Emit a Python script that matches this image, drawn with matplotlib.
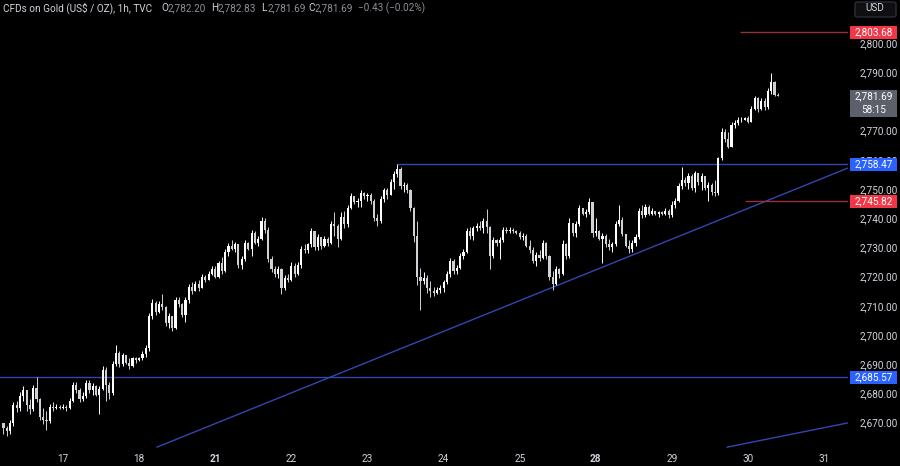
import numpy as np
import matplotlib
matplotlib.use("Agg")
from matplotlib import pyplot as plt
from matplotlib.patches import Rectangle, FancyBboxPatch

plt.rcParams['font.family'] = ['Roboto', 'DejaVu Sans']

#%% Data (1h candles)
closes = [2668, 2667, 2670, 2676, 2675, 2679, 2681, 2676, 2674.5, 2682,
          2678, 2672, 2671, 2670.5, 2675.5, 2675, 2675.5, 2675, 2675.5, 2675,
          2677.5, 2683, 2681, 2678, 2679, 2683.5, 2681, 2682.5, 2679.5, 2681.5,
          2688, 2683, 2680, 2690, 2694, 2690, 2693, 2690.5, 2689.5, 2692,
          2691.5, 2692, 2693.5, 2695.5, 2706.5, 2711, 2708, 2710.5, 2709.5, 2704,
          2706.5, 2702.5, 2712, 2710.5, 2707, 2712, 2716.5, 2715, 2717.5, 2716,
          2720, 2719, 2721, 2722.5, 2720, 2724.5, 2722, 2728.5, 2730.5, 2729.5,
          2731, 2724, 2726, 2731.5, 2729.5, 2735, 2731.5, 2733, 2739, 2736,
          2726, 2722.5, 2721, 2722.5, 2716, 2719.5, 2719, 2723.5, 2721, 2724,
          2729.5, 2729, 2731, 2735.5, 2730, 2733.5, 2730.5, 2733, 2731.5, 2738,
          2737.5, 2733, 2740.5, 2738, 2743.5, 2747.5, 2745.5, 2746, 2748.5, 2747.5,
          2748, 2746, 2740, 2739, 2746.5, 2749.5, 2748, 2752.5, 2755, 2757,
          2751, 2751.5, 2749.5, 2743.5, 2734, 2720, 2718.5, 2719.5, 2716, 2715,
          2714.5, 2715.5, 2716, 2718, 2721, 2725.5, 2722, 2723, 2727, 2728.5,
          2735.5, 2734, 2736.5, 2737.5, 2736.5, 2739, 2737, 2727, 2732.5, 2731.5,
          2732.5, 2736, 2735.5, 2736, 2735.5, 2735, 2733.5, 2734, 2730.5, 2729,
          2725.5, 2727.5, 2726.5, 2731.5, 2727, 2720, 2717.5, 2722.5, 2721, 2731,
          2727, 2738.5, 2735, 2738, 2743.5, 2741.5, 2742, 2745.5, 2735, 2735.5,
          2733, 2734, 2731, 2730, 2731, 2738, 2739.5, 2734.5, 2730.5, 2729.5,
          2731.5, 2733.5, 2742.5, 2741, 2744, 2741.5, 2742.5, 2741.5, 2742, 2741.5,
          2742.5, 2741, 2744.5, 2746, 2751, 2753, 2752, 2754.5, 2750.5, 2755.5,
          2752.5, 2754.5, 2750.5, 2751.5, 2749, 2748.5, 2760.5, 2769.5, 2767, 2764.5,
          2772, 2772.5, 2773.5, 2773.8, 2774.2, 2773, 2777.5, 2781, 2777.5, 2780,
          2778, 2783.5, 2786.5, 2782.2, 2781.69]
highs = [2670, 2669, 2671, 2677, 2677.5, 2680.5, 2682.5, 2681, 2678, 2683,
         2685.6, 2678.5, 2675, 2674, 2676.5, 2677, 2676.5, 2676, 2676.5, 2676,
         2678.5, 2684, 2684, 2682, 2680.5, 2684.5, 2684.5, 2683.5, 2683, 2682.5,
         2689.5, 2689, 2684, 2691, 2696.5, 2694.5, 2694, 2693, 2692, 2692.5,
         2692.5, 2692.5, 2694.5, 2696.5, 2707.5, 2712.5, 2711.5, 2711.5, 2714, 2710,
         2707.5, 2706.5, 2713, 2713, 2711, 2713, 2717.5, 2718, 2718.5, 2719,
         2721, 2720.5, 2721.8, 2723.5, 2723.5, 2725.5, 2726.7, 2729.5, 2731.5, 2732.5,
         2732, 2731, 2727, 2732.5, 2732, 2736, 2735.5, 2734, 2740.5, 2740,
         2737, 2727, 2723.5, 2723.5, 2723, 2720.5, 2721, 2725, 2724.5, 2725,
         2730.5, 2731, 2731.5, 2736.5, 2735.5, 2734.5, 2733.5, 2734, 2733.5, 2739,
         2742, 2738, 2742, 2742.5, 2744.5, 2748.5, 2747, 2747, 2749.5, 2749,
         2748.8, 2748.5, 2746.5, 2741.5, 2747.5, 2750.5, 2750.5, 2753.5, 2756, 2758.5,
         2757.5, 2752.5, 2752, 2750, 2744, 2739, 2723, 2721.5, 2720.5, 2718.5,
         2716.5, 2716.5, 2717, 2719, 2722, 2726.5, 2726, 2724, 2728, 2729.5,
         2736.5, 2737, 2737.5, 2738.5, 2739, 2740, 2743, 2737.5, 2733.5, 2733,
         2733.5, 2737, 2737, 2737, 2736.5, 2736, 2735.5, 2735, 2734.5, 2732.5,
         2730, 2728.5, 2729, 2732.5, 2732, 2727.5, 2722, 2723.5, 2723, 2732.5,
         2731.5, 2740, 2738.5, 2739, 2744.5, 2743.5, 2743, 2747, 2745.5, 2740,
         2736, 2735, 2734.5, 2733, 2732, 2739, 2744.5, 2740.5, 2734.5, 2732.5,
         2732.5, 2734.5, 2743.5, 2744.5, 2745, 2744.5, 2743.5, 2742.5, 2742.5, 2742.5,
         2743.5, 2743, 2746, 2747, 2752, 2757.5, 2754, 2755.5, 2755, 2756,
         2755.5, 2755.5, 2754.5, 2752.5, 2752, 2753, 2761, 2771, 2770.5, 2769.5,
         2773, 2773.5, 2774.5, 2774.5, 2774.8, 2775, 2778.5, 2782, 2781.5, 2781,
         2781, 2784.5, 2789.7, 2787, 2782.83]
lows = [2666, 2665.5, 2666, 2669, 2673.5, 2674, 2677.5, 2674, 2673, 2674,
        2677, 2671, 2669.5, 2667.5, 2670, 2674, 2674.5, 2674.5, 2674.5, 2674,
        2674.5, 2677, 2680, 2677, 2677.5, 2678.5, 2680, 2679.5, 2679, 2673,
        2681, 2677.5, 2678, 2679.5, 2689.5, 2689, 2689.5, 2690, 2688.5, 2689,
        2690.5, 2691, 2691.5, 2692.5, 2694.5, 2705.5, 2707, 2707.5, 2708.5, 2703,
        2702.5, 2701.5, 2702, 2709.5, 2706, 2704.5, 2711, 2714, 2715, 2715,
        2716, 2718, 2719, 2720.5, 2719.5, 2719.5, 2721, 2721.5, 2727, 2729,
        2728.5, 2723, 2722.5, 2725.5, 2729, 2727, 2731, 2730.5, 2732.5, 2735,
        2725, 2721.5, 2720, 2719.5, 2714, 2715.5, 2718, 2718.5, 2720, 2720.5,
        2723, 2728, 2728, 2730, 2729, 2729, 2729.5, 2730, 2730.5, 2731,
        2734, 2730, 2732.5, 2736.5, 2737, 2743, 2745, 2744, 2744, 2746.5,
        2746, 2745, 2739, 2737.5, 2738.5, 2745.5, 2746.5, 2748, 2750, 2754,
        2750, 2749, 2748.5, 2742.5, 2732, 2717, 2708.6, 2717.5, 2714.5, 2713,
        2713.5, 2714, 2714.5, 2714.8, 2717.5, 2720, 2721, 2721, 2722.5, 2726,
        2728, 2733, 2732.5, 2735.5, 2736, 2735, 2735, 2722.6, 2726.5, 2730.5,
        2726, 2732, 2735, 2735, 2735, 2734.5, 2733, 2732.5, 2730, 2728,
        2724.5, 2723.5, 2725.5, 2726, 2726, 2719, 2715.5, 2717, 2719.5, 2720.5,
        2726, 2726.5, 2734, 2733.5, 2737.5, 2741, 2740.5, 2741.5, 2733.5, 2734,
        2732.5, 2724.7, 2730, 2729, 2728.5, 2730.5, 2737.5, 2734, 2730, 2728,
        2728.5, 2730.5, 2733, 2740, 2740.5, 2741, 2741, 2741, 2740.5, 2741,
        2741, 2740, 2740.5, 2743.5, 2745.5, 2750, 2751, 2750, 2749.5, 2749,
        2751.5, 2749.6, 2749.5, 2746, 2748, 2747.5, 2748, 2760, 2766, 2764,
        2764.5, 2771, 2772, 2773, 2773.5, 2772.5, 2773, 2777, 2776.5, 2777,
        2777, 2777.5, 2782.5, 2782, 2781.69]
first_open = 2670

day_labels = ['17', '18', '21', '22', '23', '24', '25', '28', '29', '30', '31']
bold_days = ['21', '28']
first_day_bar = 18
bars_per_day = 23
# 2,780 sits under the live-price box, so it is not shown
price_ticks = [2670, 2680, 2690, 2700, 2710, 2720, 2730, 2740, 2750, 2760, 2770, 2790, 2800]

# drawn levels
resistance = 2803.68
support_red = 2745.82
breakout_level = 2758.47
breakout_start_bar = 119
old_level = 2685.57
trend_bars = [46.4, 255.2]
trend_prices = [2661.6, 2757.2]
lower_bars = [218.7, 255.2]
lower_prices = [2661.6, 2669.9]
current_price = 2781.69
countdown = '58:15'

#%% Figure
BG = '#000000'
TXT = '#d1d4dc'
BLUE_LINE = '#3446b0'
RED_LINE = '#96303a'
FS = 7.2

fig = plt.figure(figsize=(9, 4.66), dpi=100, facecolor=BG)
ax = fig.add_axes([0, 18 / 466, 848 / 900, 448 / 466], facecolor=BG)

o = np.array([first_open] + closes[:-1], dtype=float)
c = np.array(closes, dtype=float)
h = np.maximum(np.array(highs, dtype=float), np.maximum(o, c))
l = np.minimum(np.array(lows, dtype=float), np.minimum(o, c))
idx = np.arange(len(c))
up = c >= o
cols = np.where(up, '#ffffff', '#cfd1d6')

ax.vlines(idx, l, h, colors=cols, linewidth=0.7, zorder=3)
body = np.maximum(np.abs(c - o), 0.3)
ax.bar(idx, body, bottom=np.minimum(o, c), width=0.65, color=cols,
       linewidth=0, zorder=4)

# lines
ax.axhline(old_level, color=BLUE_LINE, lw=1, zorder=2)
ax.hlines(breakout_level, breakout_start_bar, 300, color=BLUE_LINE, lw=1, zorder=2)
ax.plot(trend_bars, trend_prices, color=BLUE_LINE, lw=1, zorder=2)
ax.plot(lower_bars, lower_prices, color=BLUE_LINE, lw=1, zorder=2)
ax.hlines(resistance, 222.6, 300, color=RED_LINE, lw=1, zorder=2)
ax.hlines(support_red, 224.1, 300, color=RED_LINE, lw=1, zorder=2)

ax.set_xlim(-1.04, 255.2)
ax.set_ylim(2661.3, 2814.73)
for s in ax.spines.values():
    s.set_visible(False)

# x axis
ax.set_xticks([first_day_bar + bars_per_day * k for k in range(len(day_labels))])
ax.set_xticklabels(day_labels)
for lab in ax.get_xticklabels():
    if lab.get_text() in bold_days:
        lab.set_fontweight('bold')
ax.tick_params(axis='x', length=0, pad=4, labelsize=FS, labelcolor=TXT)

# y axis
ax.yaxis.tick_right()
ax.set_yticks(price_ticks)
ax.set_yticklabels([f'{p:,.2f}' for p in price_ticks])
ax.tick_params(axis='y', length=0, pad=8, labelsize=FS, labelcolor=TXT)

# price tags on the axis
ytr = ax.get_yaxis_transform()
def tag(price, color, text, height=4.4):
    ax.add_patch(Rectangle((1.0024, price - height / 2), 0.0555, height,
                           transform=ytr, facecolor=color, edgecolor='none',
                           clip_on=False, zorder=6))
    ax.text(1.0302, price, text, transform=ytr, color='white', fontsize=FS,
            ha='center', va='center', clip_on=False, zorder=7)

tag(resistance, '#f23645', f'{resistance:,.2f}')
tag(breakout_level, '#2962ff', f'{breakout_level:,.2f}')
tag(support_red, '#f23645', f'{support_red:,.2f}')
tag(old_level, '#2962ff', f'{old_level:,.2f}')

# current price box
ax.add_patch(Rectangle((1.0024, current_price - 7.0), 0.0555, 9.3,
                       transform=ytr, facecolor='#5d606b', edgecolor='none',
                       clip_on=False, zorder=6))
ax.text(1.0302, current_price, f'{current_price:,.2f}', transform=ytr,
        color='white', fontsize=FS, ha='center', va='center', clip_on=False, zorder=7)
ax.text(1.0302, current_price - 4.5, countdown, transform=ytr,
        color='white', fontsize=FS, ha='center', va='center', clip_on=False, zorder=7)

# USD box
fig.patches.append(FancyBboxPatch((855 / 900, 449 / 466), 41 / 900, 15 / 466,
                                  boxstyle='round,pad=0,rounding_size=0.004',
                                  transform=fig.transFigure, facecolor='#0f0f12',
                                  edgecolor='#2a2e39', lw=1))
fig.text(875 / 900, 1 - 8 / 466, 'USD', color=TXT, fontsize=FS, ha='center', va='center')

# header
hy = 1 - 8 / 466
GREY = '#8c8f98'
fig.text(3 / 900, hy, 'CFDs on Gold (US$ / OZ), 1h, TVC', color=TXT, fontsize=FS, va='center')
for px, key, val in [(161, 'O', '2,782.20'), (211, 'H', '2,782.83'),
                     (261, 'L', '2,781.69'), (308, 'C', '2,781.69')]:
    fig.text(px / 900, hy, key, color=TXT, fontsize=FS, va='center')
    fig.text((px + 6.5) / 900, hy, val, color=GREY, fontsize=FS, va='center')
fig.text(358 / 900, hy, '\u22120.43 (\u22120.02%)', color=GREY, fontsize=FS, va='center')

plt.savefig('out.png', dpi=100, facecolor=BG)
